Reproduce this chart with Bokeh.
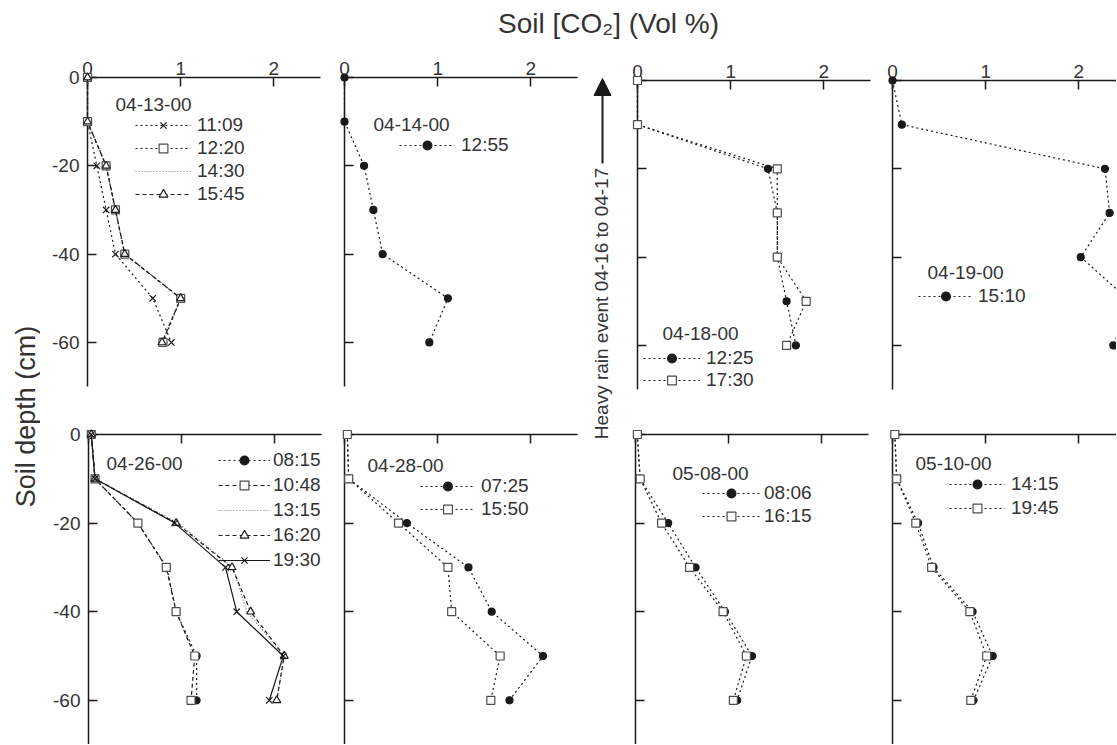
import math
from bokeh.plotting import figure
from bokeh.layouts import column, row
from bokeh.models import Range1d, FixedTicker, Legend, LegendItem, Label, Arrow, NormalHead
from bokeh.embed import file_html
from bokeh.resources import INLINE

FONT = "Liberation Sans"
TXT = "#333333"
INK = "#1a1a1a"
GREY = "#4d4d4d"

# ------------------------------------------------------------------ data
depth = [0, -10, -20, -30, -40, -50, -60]
x_ticks = [0, 1, 2]
y_ticks = [0, -20, -40, -60]
y_tick_labels = ["0", "-20", "-40", "-60"]

title_text = "Soil [CO\u2082] (Vol %)"
ylabel_text = "Soil depth (cm)"
rain_text = "Heavy rain event 04-16 to 04-17"

dates = ["04-13-00", "04-14-00", "04-18-00", "04-19-00",
         "04-26-00", "04-28-00", "05-08-00", "05-10-00"]

# 04-13-00
t_0413 = ["11:09", "12:20", "14:30", "15:45"]
c_0413_1109 = [0.00, 0.00, 0.10, 0.20, 0.30, 0.70, 0.90]
c_0413_1220 = [0.00, 0.00, 0.20, 0.30, 0.40, 1.00, 0.81]
c_0413_1430 = [0.00, 0.00, 0.20, 0.30, 0.40, 1.00, 0.80]
c_0413_1545 = [0.00, 0.00, 0.20, 0.30, 0.40, 1.00, 0.80]
# 04-14-00
t_0414 = ["12:55"]
c_0414_1255 = [0.00, 0.00, 0.21, 0.31, 0.41, 1.11, 0.91]
# 04-18-00
t_0418 = ["12:25", "17:30"]
c_0418_1225 = [0.00, 0.00, 1.40, 1.50, 1.50, 1.60, 1.70]
c_0418_1730 = [0.00, 0.00, 1.50, 1.50, 1.50, 1.81, 1.60]
# 04-19-00
t_0419 = ["15:10"]
c_0419_1510 = [0.00, 0.10, 2.28, 2.33, 2.02, 2.55, 2.37]
# 04-26-00
t_0426 = ["08:15", "10:48", "13:15", "16:20", "19:30"]
c_0426_0815 = [0.03, 0.07, 0.53, 0.84, 0.94, 1.16, 1.16]
c_0426_1048 = [0.03, 0.07, 0.53, 0.835, 0.94, 1.14, 1.10]
c_0426_1315 = [0.03, 0.07, 0.96, 1.55, 1.70, 2.10, 2.02]
c_0426_1620 = [0.03, 0.07, 0.94, 1.54, 1.74, 2.10, 2.02]
c_0426_1930 = [0.03, 0.07, 0.925, 1.47, 1.59, 2.09, 1.94]
# 04-28-00
t_0428 = ["07:25", "15:50"]
c_0428_0725 = [0.03, 0.045, 0.67, 1.33, 1.58, 2.13, 1.77]
c_0428_1550 = [0.03, 0.045, 0.58, 1.11, 1.15, 1.67, 1.57]
# 05-08-00
t_0508 = ["08:06", "16:15"]
c_0508_0806 = [0.02, 0.05, 0.35, 0.645, 0.96, 1.25, 1.09]
c_0508_1615 = [0.02, 0.05, 0.28, 0.58, 0.94, 1.19, 1.05]
# 05-10-00
t_0510 = ["14:15", "19:45"]
c_0510_1415 = [0.025, 0.045, 0.275, 0.44, 0.86, 1.075, 0.87]
c_0510_1945 = [0.025, 0.045, 0.25, 0.42, 0.83, 1.01, 0.84]

# ------------------------------------------------------------------ styles
STYLES = {
    "dot_x":    dict(dash="2 3", color=INK, marker="x", size=9, fill=None, mline=INK),
    "dot_sq":   dict(dash="2 3", color=INK, marker="square", size=8, fill="white", mline=GREY),
    "fine":     dict(dash="1 2", color="#707070", marker=None),
    "dash_tri": dict(dash="4 3", color=INK, marker="triangle", size=8, fill="white", mline=INK),
    "dot_dot":  dict(dash="2 3", color=INK, marker="circle", size=7, fill=INK, mline=INK),
    "dash_sq":  dict(dash="4 3", color=INK, marker="square", size=8, fill="white", mline=GREY),
    "solid_x":  dict(dash="solid", color=INK, marker="x", size=9, fill=None, mline=INK),
}

panels = [
    dict(date=dates[0], series=[(t_0413[0], c_0413_1109, "dot_x"), (t_0413[1], c_0413_1220, "dot_sq"),
                                (t_0413[2], c_0413_1430, "fine"), (t_0413[3], c_0413_1545, "dash_tri")]),
    dict(date=dates[1], series=[(t_0414[0], c_0414_1255, "dot_dot")]),
    dict(date=dates[2], series=[(t_0418[0], c_0418_1225, "dot_dot"), (t_0418[1], c_0418_1730, "dot_sq")]),
    dict(date=dates[3], series=[(t_0419[0], c_0419_1510, "dot_dot")]),
    dict(date=dates[4], series=[(t_0426[0], c_0426_0815, "dot_dot"), (t_0426[1], c_0426_1048, "dash_sq"),
                                (t_0426[2], c_0426_1315, "fine"), (t_0426[3], c_0426_1620, "dash_tri"),
                                (t_0426[4], c_0426_1930, "solid_x")]),
    dict(date=dates[5], series=[(t_0428[0], c_0428_0725, "dot_dot"), (t_0428[1], c_0428_1550, "dot_sq")]),
    dict(date=dates[6], series=[(t_0508[0], c_0508_0806, "dot_dot"), (t_0508[1], c_0508_1615, "dot_sq")]),
    dict(date=dates[7], series=[(t_0510[0], c_0510_1415, "dot_dot"), (t_0510[1], c_0510_1945, "dot_sq")]),
]

# ------------------------------------------------------------------ layout (page pixels)
XS = 93.2   # px per Vol %
YS = 4.43   # px per cm
TOTAL_W = 1116
HEADER_H = 44
ROW_TOP = [44, 420]
ROW_H = [376, 324]
YLAB_W = 40
GAP = (584, 628)
FIG_LEFT = [40, 332, 628, 880]
FIG_W = [292, 252, 252, 236]
FRAME_W = [233, 233, 233, 224]
FRAME_LEFT = [[87, 344, 637, 892], [88, 344, 635, 892]]
FRAME_TOP = [[76, 77, 79, 80], [434, 434, 434, 434]]
FRAME_H = [310, 310]
# date label (left, cy), legend (glyph left, first item cy, step, glyph w, standoff)
LEG = [
    (115, 103, 135, 125, 23, 56, 6),
    (373, 124, 399, 146, 23, 56, 6),
    (662, 333, 643, 358, 22, 57, 6),
    (927, 273, 918, 297, 23, 55, 5),
    (106, 463, 218, 460, 25, 52, 3),
    (367, 465, 420, 486, 23, 55, 6),
    (672, 473, 702, 493, 23, 58, 4),
    (915, 463, 949, 484, 24, 56, 6),
]
IH = 22
FS = "19px"


def style_axis(ax, show_labels, standoff):
    ax.axis_line_color = INK
    ax.axis_line_width = 1.5
    ax.major_tick_line_color = INK
    ax.major_tick_line_width = 1.5
    ax.major_tick_in = 9
    ax.major_tick_out = 0
    ax.minor_tick_line_color = None
    ax.major_label_text_font = FONT
    ax.major_label_text_font_size = FS
    if show_labels:
        ax.major_label_text_color = TXT
        ax.major_label_standoff = standoff
    else:
        ax.major_label_text_color = None
        ax.major_label_standoff = 0


figs = [[], []]
for idx, spec in enumerate(panels):
    r, c = divmod(idx, 4)
    fl, ft = FRAME_LEFT[r][c], FRAME_TOP[r][c]
    fw, fh = FRAME_W[c], FRAME_H[r]
    bl = fl - FIG_LEFT[c]
    br = FIG_W[c] - bl - fw
    bt = ft - ROW_TOP[r]
    bb = ROW_H[r] - bt - fh
    p = figure(width=FIG_W[c], height=ROW_H[r],
               x_range=Range1d(0, fw / XS), y_range=Range1d(-fh / YS, 0),
               x_axis_location="above", y_axis_location="left",
               toolbar_location=None, output_backend="svg",
               min_border_left=bl, min_border_right=br,
               min_border_top=bt, min_border_bottom=bb)
    p.outline_line_color = None
    p.xgrid.visible = False
    p.ygrid.visible = False
    xa, ya = p.xaxis[0], p.yaxis[0]
    xa.ticker = FixedTicker(ticks=x_ticks)
    ya.ticker = FixedTicker(ticks=y_ticks)
    ya.major_label_overrides = {t: s for t, s in zip(y_ticks, y_tick_labels)}
    style_axis(xa, r == 0, 3)
    style_axis(ya, c == 0, 8)

    items = []
    for name, vals, sk in spec["series"]:
        st = STYLES[sk]
        rends = [p.line(vals, depth, line_color=st["color"], line_dash=st["dash"],
                        line_width=1.2, level="overlay")]
        if st["marker"]:
            rends.append(p.scatter(vals, depth, marker=st["marker"], size=st["size"],
                                   line_color=st["mline"], fill_color=st["fill"],
                                   line_width=1.2, level="overlay"))
        items.append(LegendItem(label=name, renderers=rends))

    dl, dcy, gl, cy1, step, gw, so = LEG[idx]
    p.add_layout(Label(x=(dl - fl) / XS, y=-(dcy - ft) / YS, text=spec["date"],
                       text_font=FONT, text_font_size=FS, text_color=TXT,
                       text_align="left", text_baseline="middle", level="overlay"))
    n = len(items)
    sp = int(step - IH)
    H = n * IH + (n - 1) * sp
    top = cy1 - IH // 2
    leg = Legend(items=items, location=(int(gl - fl), int((ft + fh) - (top + H))),
                 orientation="vertical", padding=0, margin=0, spacing=sp,
                 glyph_width=gw, glyph_height=IH, label_height=IH, label_standoff=so,
                 label_text_font=FONT, label_text_font_size=FS, label_text_color=TXT,
                 border_line_color=None, background_fill_alpha=0, level="overlay")
    p.add_layout(leg)
    figs[r].append(p)


def blank(x0, x1, y0, y1):
    f = figure(width=x1 - x0, height=y1 - y0, x_range=Range1d(x0, x1), y_range=Range1d(y1, y0),
               x_axis_type=None, y_axis_type=None, toolbar_location=None,
               output_backend="svg", min_border=0)
    f.outline_line_color = None
    f.grid.visible = False
    return f


# header with the overall x title (page-pixel coordinates)
hdr = blank(0, TOTAL_W, 0, HEADER_H)
hdr.add_layout(Label(x=608, y=23, text=title_text, text_font=FONT, text_font_size="28px",
                     text_color=TXT, text_align="center", text_baseline="middle", level="overlay"))

# y title column
bottom = ROW_TOP[1] + ROW_H[1]
ylab = blank(0, YLAB_W, HEADER_H, bottom)
ylab.add_layout(Label(x=25, y=416, text=ylabel_text, angle=math.pi / 2, text_font=FONT,
                      text_font_size="27px", text_color=TXT, text_align="center",
                      text_baseline="middle", level="overlay"))

# rain-event note between the two panel pairs
gap = blank(GAP[0], GAP[1], HEADER_H, bottom)
gap.add_layout(Label(x=601, y=303, text=rain_text, angle=math.pi / 2, text_font=FONT,
                     text_font_size=FS, text_color=TXT, text_align="center",
                     text_baseline="middle", level="overlay"))
gap.add_layout(Arrow(end=NormalHead(size=17, fill_color=INK, line_color=INK),
                     x_start=602, y_start=163, x_end=602, y_end=78,
                     line_color=INK, line_width=2, level="overlay"))

left_block = column(row(figs[0][0], figs[0][1]), row(figs[1][0], figs[1][1]))
right_block = column(row(figs[0][2], figs[0][3]), row(figs[1][2], figs[1][3]))
layout = column(hdr, row(ylab, left_block, gap, right_block))
open("out.html", "w").write(file_html(layout, INLINE))
